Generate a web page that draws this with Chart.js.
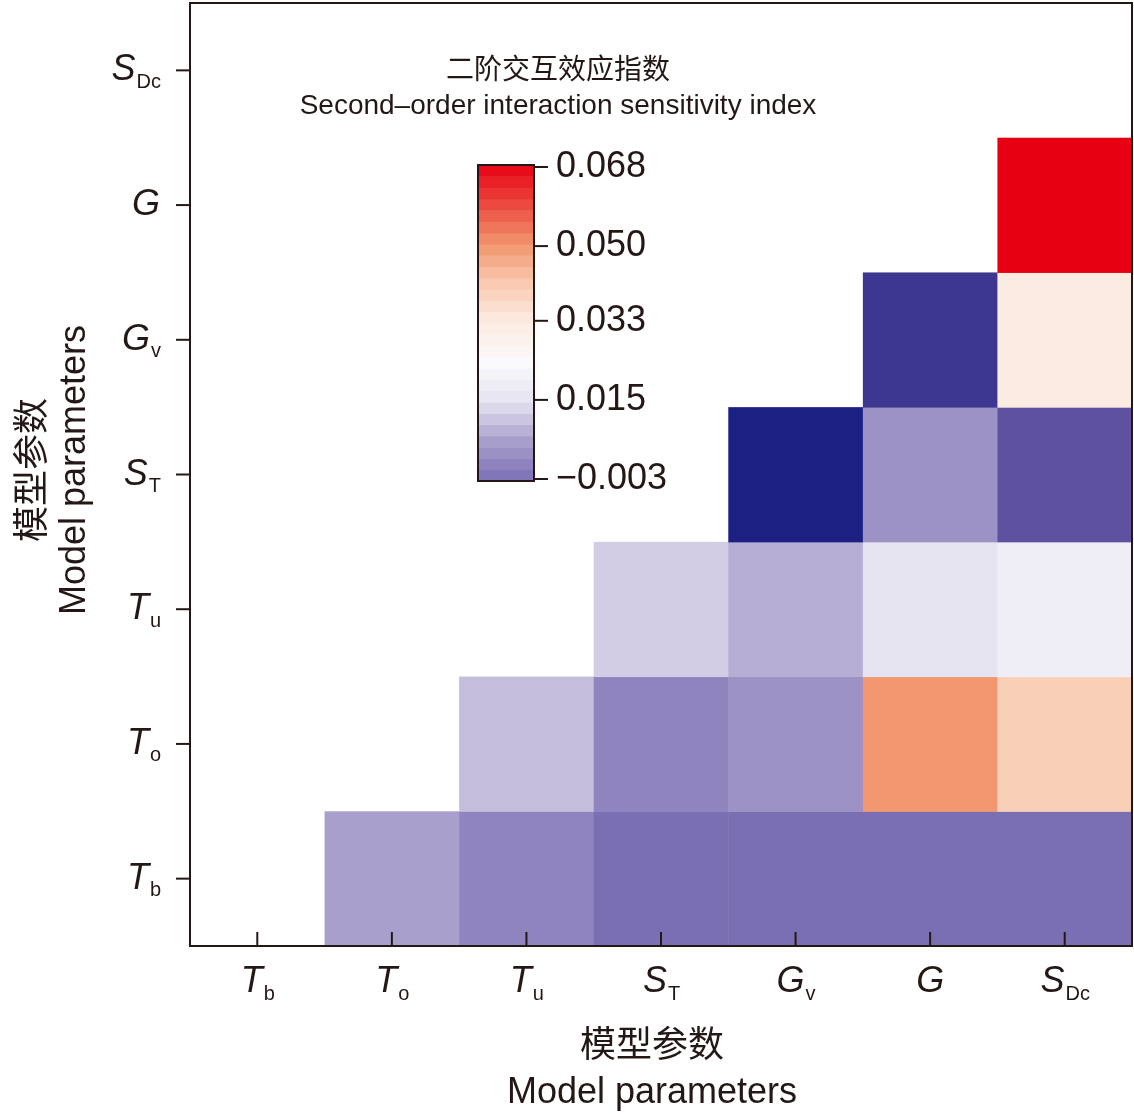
<!DOCTYPE html>
<html><head><meta charset="utf-8">
<script src="https://cdn.jsdelivr.net/npm/chart.js@4"></script>
<style>html,body{margin:0;padding:0;background:#fff}#wrap{width:1134px;height:1117px}</style>
</head><body><div id="wrap"><canvas id="c"></canvas></div>
<script>
// parameter names: [main letter, subscript]
const params = [["T","b"],["T","o"],["T","u"],["S","T"],["G","v"],["G",""],["S","Dc"]];
// upper triangle cells: [col index, row index, value]
const cellCols = [1,2,3,4,5,6, 2,3,4,5,6, 3,4,5,6, 4,5,6, 5,6, 6];
const cellRows = [0,0,0,0,0,0, 1,1,1,1,1, 2,2,2,2, 3,3,3, 4,4, 5];
const cellValues = [0.006,0.001,-0.003,-0.003,-0.003,-0.003,
                    0.010,0.001,0.0035,0.050,0.040,
                    0.012,0.008,0.015,0.019,
                    -0.012,0.0035,-0.006,
                    -0.009,0.033,
                    0.068];
const barTicks = [-0.003,0.015,0.033,0.050,0.068];
const barSteps = 28;

const stopVals = [-0.012,-0.009,-0.006,-0.003,0.006,0.015,0.024,0.033,0.042,0.050,0.068];
const stopCols = ["#1c2083","#3d3791","#5e52a0","#7b6fb3","#a99fcc","#e6e4f1","#fbfafc","#fcebe0","#f9c7ad","#f2976f","#e60012"];
const hex = h => [1,3,5].map(i => parseInt(h.substr(i,2),16));
function colorOf(v){
  if (v <= stopVals[0]) return stopCols[0];
  for (let i=1;i<stopVals.length;i++){
    if (v <= stopVals[i]){
      const t=(v-stopVals[i-1])/(stopVals[i]-stopVals[i-1]);
      const a=hex(stopCols[i-1]), b=hex(stopCols[i]);
      return `rgb(${a.map((x,k)=>Math.round(x+(b[k]-x)*t)).join(",")})`;
    }
  }
  return stopCols[stopCols.length-1];
}

const SANS = '"Liberation Sans", Arial, sans-serif';
const CJK = '"Noto Sans CJK SC", sans-serif';

function paramLabel(ctx, p, x, y, align){
  ctx.textBaseline = "middle";
  ctx.font = "italic 36px " + SANS;
  const w1 = ctx.measureText(p[0]).width;
  ctx.font = "20px " + SANS;
  const w2 = ctx.measureText(p[1]).width;
  let x0 = align === "center" ? x - (w1 + w2)/2 : x - (w1 + w2);
  ctx.textAlign = "left";
  ctx.font = "italic 36px " + SANS;
  ctx.fillText(p[0], x0, y);
  ctx.font = "20px " + SANS;
  ctx.fillText(p[1], x0 + w1 + 1, y + 12);
}

const heatPlugin = {
  id: "heat",
  afterDatasetsDraw(chart){
    const {ctx, chartArea:a, scales:{x, y}} = chart;
    ctx.save();
    cellValues.forEach((v,i) => {
      const x0 = x.getPixelForValue(cellCols[i]-0.5), x1 = x.getPixelForValue(cellCols[i]+0.5);
      const y0 = y.getPixelForValue(cellRows[i]+0.5), y1 = y.getPixelForValue(cellRows[i]-0.5);
      ctx.fillStyle = colorOf(v);
      ctx.fillRect(x0, y0, x1-x0+0.5, y1-y0+0.5);
    });
    // frame
    ctx.strokeStyle = "#231815"; ctx.lineWidth = 2;
    ctx.strokeRect(a.left, a.top, a.right-a.left, a.bottom-a.top);
    ctx.fillStyle = "#231815";
    params.forEach((p,i) => {
      const px = x.getPixelForValue(i), py = y.getPixelForValue(i);
      ctx.beginPath(); ctx.moveTo(px, a.bottom); ctx.lineTo(px, a.bottom-14); ctx.stroke();
      ctx.beginPath(); ctx.moveTo(a.left, py); ctx.lineTo(a.left-14, py); ctx.stroke();
      paramLabel(ctx, p, px, a.bottom+36, "center");
      paramLabel(ctx, p, a.left-30, py, "right");
    });
    // axis titles
    ctx.textAlign = "center"; ctx.textBaseline = "middle";
    ctx.font = "36px " + CJK; ctx.fillText("模型参数", 652, 1043);
    ctx.font = "36px " + SANS; ctx.fillText("Model parameters", 652, 1093);
    ctx.save(); ctx.translate(30, 470); ctx.rotate(-Math.PI/2);
    ctx.font = "36px " + CJK; ctx.fillText("模型参数", 0, 0); ctx.restore();
    ctx.save(); ctx.translate(75, 470); ctx.rotate(-Math.PI/2);
    ctx.font = "36px " + SANS; ctx.fillText("Model parameters", 0, 0); ctx.restore();
    // legend title
    ctx.font = "28px " + CJK; ctx.fillText("二阶交互效应指数", 558, 68);
    ctx.font = "28px " + SANS; ctx.fillText("Second\u2013order interaction sensitivity index", 558, 106);
    // colorbar
    const bx = 478, bw = 56, top = 165, bot = 481;
    const vmin = barTicks[0], vmax = barTicks[barTicks.length-1];
    const h = (bot-top)/barSteps;
    for (let k=0;k<barSteps;k++){
      const v = vmin + (k+0.5)*(vmax-vmin)/barSteps;
      ctx.fillStyle = colorOf(v);
      ctx.fillRect(bx, bot-(k+1)*h, bw, h+0.5);
    }
    ctx.strokeStyle = "#231815"; ctx.lineWidth = 2;
    ctx.strokeRect(bx, top, bw, bot-top);
    ctx.fillStyle = "#231815"; ctx.textAlign = "left"; ctx.font = "36px " + SANS;
    barTicks.forEach(t => {
      const ty = bot-2 - (t-vmin)/(vmax-vmin)*(bot-top-4);
      ctx.beginPath(); ctx.moveTo(bx+bw, ty); ctx.lineTo(bx+bw+14, ty); ctx.stroke();
      ctx.fillText((t<0?"\u2212":"") + Math.abs(t).toFixed(3), bx+bw+22, ty);
    });
    ctx.restore();
  }
};

new Chart(document.getElementById("c"), {
  type: "scatter",
  data: { datasets: [{ data: [] }] },
  options: {
    responsive: true, maintainAspectRatio: false, animation: false,
    layout: { padding: { left: 190, right: 2, top: 3, bottom: 171 } },
    plugins: { legend: { display: false }, tooltip: { enabled: false } },
    scales: {
      x: { type: "linear", min: -0.5, max: 6.5, display: false },
      y: { type: "linear", min: -0.5, max: 6.5, display: false }
    }
  },
  plugins: [heatPlugin]
});
</script></body></html>
